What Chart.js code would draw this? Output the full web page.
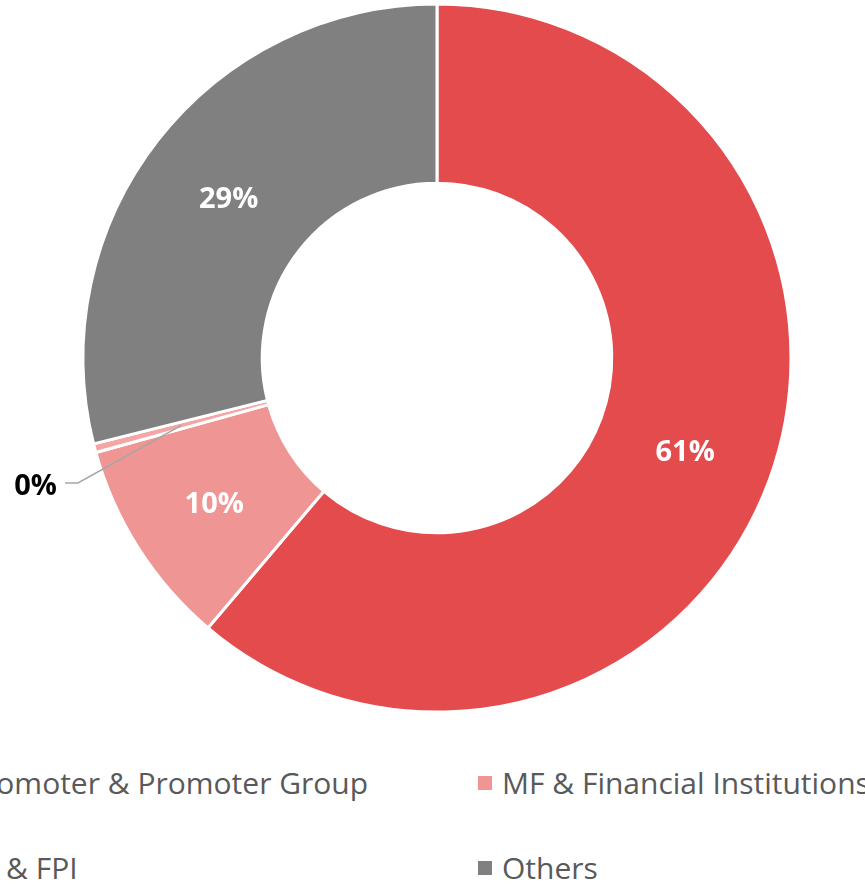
<!DOCTYPE html>
<html lang="en">
<head>
<meta charset="UTF-8">
<title>Shareholding</title>
<script src="https://cdn.jsdelivr.net/npm/chart.js"></script>
<style>
    html, body { margin: 0; padding: 0; background: #fff; overflow: hidden; width: 865px; height: 886px; }
    .box { position: absolute; left: 0; top: 0; width: 874px; height: 716px; }
    .legenda { position: absolute; font-family: "Open Sans", sans-serif; font-size: 30px; color: #595959; white-space: nowrap; }
    .legenda span.q { display: inline-block; width: 14px; height: 14px; margin-right: 10px; vertical-align: 4px; }
</style>
</head>
<body>
<div class="box"><canvas id="grafico"></canvas></div>
<div id="legend"></div>

<script>
// dados do grafico
const categorias = ['Promoter & Promoter Group', 'MF & Financial Institutions', 'FII & FPI', 'Others'];
const valores = [61.2, 9.5, 0.4, 28.9];
const cores = ['#E34B4D', '#EF9594', '#F4A6A6', '#808080'];

// posicao da legenda (2 colunas, cortada nas bordas como no original)
const colX = [-58, 478];
const rowY = [762, 847];

const legend = document.getElementById('legend');
categorias.forEach(function (nome, i) {
    const d = document.createElement('div');
    d.className = 'legenda';
    d.style.left = colX[i % 2] + 'px';
    d.style.top = rowY[Math.floor(i / 2)] + 'px';
    d.innerHTML = '<span class="q" style="background:' + cores[i] + '"></span>' + nome;
    legend.appendChild(d);
});

// rotulos de porcentagem
const rotulos = {
    id: 'rotulos',
    afterDatasetsDraw(chart) {
        const ctx = chart.ctx;
        const meta = chart.getDatasetMeta(0);
        ctx.save();
        ctx.font = 'bold 29px "Open Sans", sans-serif';
        ctx.textBaseline = 'middle';
        meta.data.forEach(function (arc, i) {
            const txt = Math.round(valores[i]) + '%';
            const p = arc.getCenterPoint();
            if (valores[i] < 2) {
                // fatia pequena: linha guia para fora
                ctx.strokeStyle = '#A6A6A6';
                ctx.lineWidth = 1.5;
                ctx.beginPath();
                ctx.moveTo(p.x, p.y);
                ctx.lineTo(78, 483);
                ctx.lineTo(65, 483);
                ctx.stroke();
                ctx.fillStyle = '#000';
                ctx.textAlign = 'right';
                ctx.fillText(txt, 57, 487);
            } else {
                ctx.fillStyle = '#fff';
                ctx.textAlign = 'center';
                ctx.fillText(txt, p.x, p.y + 4);
            }
        });
        ctx.restore();
    }
};

new Chart(document.getElementById('grafico'), {
    type: 'doughnut',
    data: {
        labels: categorias,
        datasets: [{
            data: valores,
            backgroundColor: cores,
            borderColor: '#fff',
            borderWidth: 3
        }]
    },
    options: {
        responsive: true,
        maintainAspectRatio: false,
        animation: false,
        radius: 354,
        cutout: 176,
        layout: { padding: 0 },
        plugins: {
            legend: { display: false },
            tooltip: { enabled: false }
        }
    },
    plugins: [rotulos]
});
</script>
</body>
</html>
